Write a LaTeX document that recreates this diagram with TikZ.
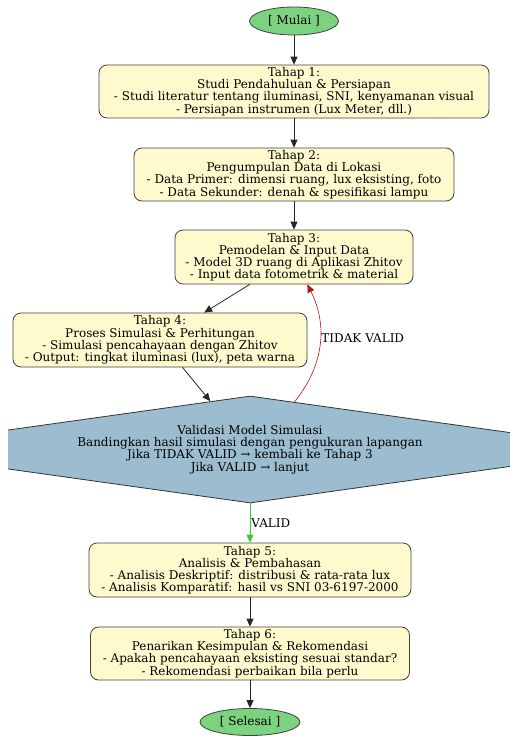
\documentclass[tikz,border=0pt]{standalone}
\usepackage{fontspec}
\setmainfont{DejaVu Serif}
\usetikzlibrary{arrows.meta,shapes.geometric}
\definecolor{boxyellow}{HTML}{FFFACD}
\definecolor{endgreen}{HTML}{7BD27F}
\definecolor{valblue}{HTML}{9BBDCF}
\definecolor{backred}{HTML}{B81414}
\definecolor{okgreen}{HTML}{33CC33}

\begin{document}
\begin{tikzpicture}[x=1pt,y=-1pt,font=\fontsize{12}{12.2}\selectfont,
  tahap/.style={draw=black!75,fill=boxyellow,rounded corners=8pt,align=center,inner sep=0pt,line width=0.8pt},
  ends/.style={ellipse,draw=black!75,fill=endgreen,inner sep=0pt,line width=0.8pt},
  arr/.style={-{Triangle[length=8pt,width=7pt]},black!85,line width=0.8pt}]
 \useasboundingbox (0,0) rectangle (510,736);
 \node[ends,minimum width=89pt,minimum height=28pt] (mulai) at (294,21) {[ Mulai ]};
 \node[tahap,minimum width=390pt,minimum height=53pt] (t1) at (294,91.5)
 {Tahap 1:\\Studi Pendahuluan \& Persiapan\\- Studi literatur tentang iluminasi, SNI, kenyamanan visual\\- Persiapan instrumen (Lux Meter, dll.)};
 \node[tahap,minimum width=320pt,minimum height=53pt] (t2) at (294,174.5)
 {Tahap 2:\\Pengumpulan Data di Lokasi\\- Data Primer: dimensi ruang, lux eksisting, foto\\- Data Sekunder: denah \& spesifikasi lampu};
 \node[tahap,minimum width=238pt,minimum height=54pt] (t3) at (294,257)
 {Tahap 3:\\Pemodelan \& Input Data\\- Model 3D ruang di Aplikasi Zhitov\\- Input data fotometrik \& material};
 \node[tahap,minimum width=294pt,minimum height=54pt] (t4) at (160,340)
 {Tahap 4:\\Proses Simulasi \& Perhitungan\\- Simulasi pencahayaan dengan Zhitov\\- Output: tingkat iluminasi (lux), peta warna};
 \begin{scope}
  \clip (8,0) rectangle (510,736);
  \node[diamond,aspect=7.12,draw=black!80,fill=valblue,line width=0.8pt,align=center,inner sep=0pt,
    minimum width=762pt,minimum height=107pt] (val) at (250,449.5)
  {Validasi Model Simulasi\\Bandingkan hasil simulasi dengan pengukuran lapangan\\Jika TIDAK VALID → kembali ke Tahap 3\\Jika VALID → lanjut};
 \end{scope}
 \node[tahap,minimum width=322pt,minimum height=54pt] (t5) at (250,570)
 {Tahap 5:\\Analisis \& Pembahasan\\- Analisis Deskriptif: distribusi \& rata-rata lux\\- Analisis Komparatif: hasil vs SNI 03-6197-2000};
 \node[tahap,minimum width=319pt,minimum height=53pt] (t6) at (250,653.5)
 {Tahap 6:\\Penarikan Kesimpulan \& Rekomendasi\\- Apakah pencahayaan eksisting sesuai standar?\\- Rekomendasi perbaikan bila perlu};
 \node[ends,minimum width=100pt,minimum height=27pt] (selesai) at (250,722) {[ Selesai ]};
 % alur utama
 \foreach \a/\b in {mulai/t1,t1/t2,t2/t3,t3/t4,t4/val,t5/t6,t6/selesai}
   \draw[arr] (\a) -- (\b);
 \draw[arr,okgreen] (val) -- node[anchor=west,inner sep=1pt,text=black] (lvalid) {VALID} (t5);
 \draw[arr,backred,line width=0.6pt] (val.47) to[bend right=33]
   node[anchor=west,inner sep=1pt,text=black,pos=0.56] (ltidak) {TIDAK VALID} (t3.-64);
\end{tikzpicture}
\end{document}
